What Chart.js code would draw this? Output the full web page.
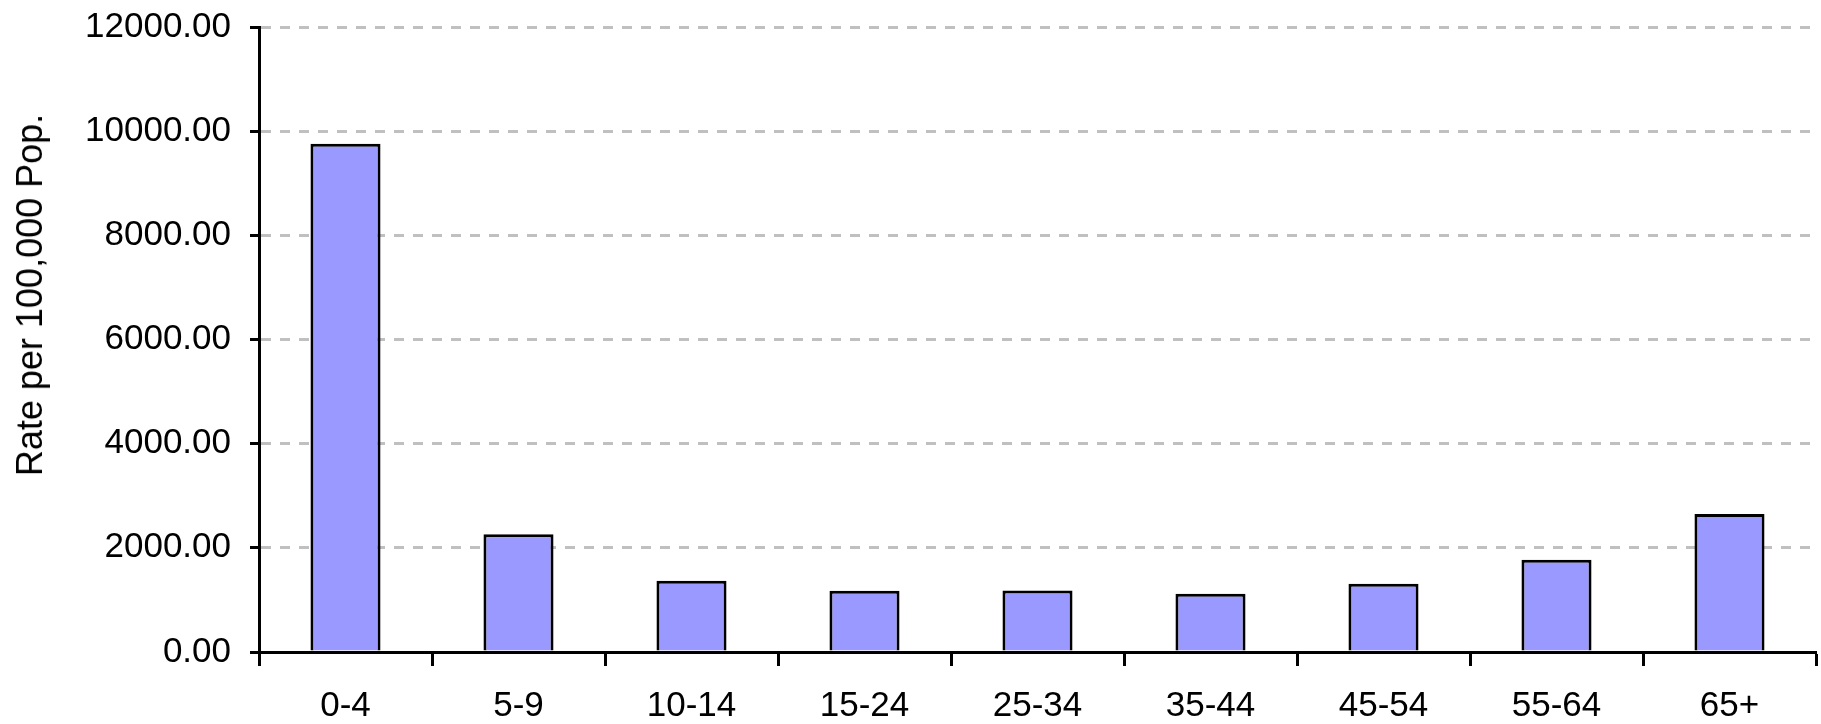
<!DOCTYPE html>
<html>
<head>
<meta charset="utf-8">
<script src="https://cdn.jsdelivr.net/npm/chart.js@4/dist/chart.umd.min.js"></script>
<style>
  html,body{margin:0;padding:0;background:#fff;}
  #wrap{position:relative;width:1821px;height:724px;}
  #ytitle{position:absolute;left:30px;top:295px;transform:translate(-50%,-50%) rotate(-90deg);white-space:nowrap;
    font-family:"Liberation Sans",Arial,sans-serif;font-size:36px;color:#000;}
</style>
</head>
<body>
<div id="wrap">
  <canvas id="c" width="1821" height="724"></canvas>
  <div id="ytitle">Rate per 100,000 Pop.</div>
</div>
<script>
const ageGroups = ['0-4','5-9','10-14','15-24','25-34','35-44','45-54','55-64','65+'];
const rates = [9760, 2260, 1370, 1175, 1180, 1120, 1310, 1770, 2650];
const yMax = 12000, yStep = 2000;

const font = { family: '"Liberation Sans", Arial, sans-serif', size: 35 };

new Chart(document.getElementById('c'), {
  type: 'bar',
  data: {
    labels: ageGroups,
    datasets: [{
      data: rates,
      backgroundColor: '#9999ff',
      borderColor: '#000',
      borderWidth: 3,
      barPercentage: 0.405,
      categoryPercentage: 1
    }]
  },
  options: {
    responsive: false,
    devicePixelRatio: 1,
    animation: false,
    layout: { padding: { top: 27, right: 5, left: 0, bottom: 0 } },
    plugins: { legend: { display: false }, tooltip: { enabled: false } },
    scales: {
      x: {
        grid: { drawOnChartArea: false, tickLength: 14, tickColor: '#000', tickWidth: 3 },
        border: { color: '#000', width: 3 },
        ticks: { color: '#000', font, padding: 19, maxRotation: 0 },
        afterFit: s => { s.height = 72; s.paddingLeft = 0; s.paddingRight = 0; }
      },
      y: {
        min: 0, max: yMax,
        grid: {
          color: ctx => ctx.tick && ctx.tick.value === 0 ? 'rgba(0,0,0,0)' : '#c0c0c0',
          lineWidth: 3, tickLength: 9, tickColor: '#000', tickWidth: 3
        },
        border: { color: '#000', width: 3, dash: [10, 9] },
        ticks: { stepSize: yStep, color: '#000', font, padding: 19, callback: v => v.toFixed(2) },
        afterFit: s => { s.width = 259; s.paddingTop = 0; s.paddingBottom = 0; }
      }
    }
  }
});
</script>
</body>
</html>
